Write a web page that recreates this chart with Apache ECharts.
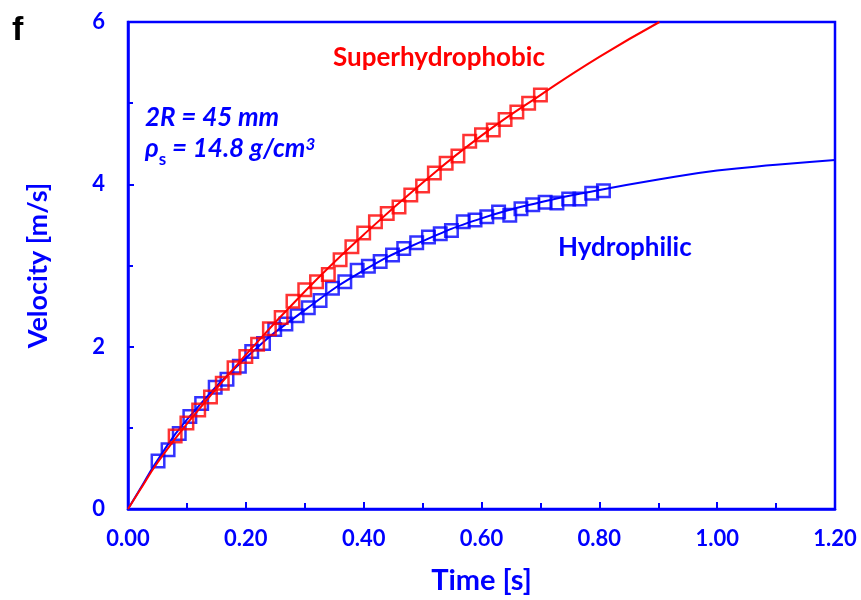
<!DOCTYPE html>
<html><head><meta charset="utf-8">
<script src="https://cdn.jsdelivr.net/npm/echarts@6/dist/echarts.min.js"></script>
<style>html,body{margin:0;padding:0;background:#fff}#c{width:861px;height:600px}</style>
</head><body><div id="c"></div>
<script>
// Superhydrophobic measured points [time s, velocity m/s]
var superT = [0.08,0.10,0.12,0.14,0.16,0.18,0.20,0.22,0.24,0.26,0.28,0.30,0.32,0.34,0.36,0.38,0.40,0.42,0.44,0.46,0.48,0.50,0.52,0.54,0.56,0.58,0.60,0.62,0.64,0.66,0.68,0.70];
var superV = [0.90,1.06,1.22,1.38,1.55,1.74,1.88,2.03,2.22,2.36,2.56,2.70,2.80,2.89,3.07,3.23,3.40,3.54,3.64,3.72,3.87,3.98,4.14,4.26,4.35,4.53,4.61,4.67,4.80,4.89,5.00,5.10];
// Hydrophilic measured points
var hydroT = [0.051,0.068,0.087,0.105,0.125,0.148,0.168,0.189,0.210,0.230,0.249,0.268,0.287,0.306,0.326,0.347,0.368,0.389,0.408,0.428,0.449,0.468,0.490,0.510,0.530,0.549,0.569,0.589,0.609,0.629,0.648,0.667,0.687,0.708,0.728,0.748,0.767,0.787,0.807];
var hydroV = [0.59,0.73,0.93,1.14,1.30,1.50,1.60,1.76,1.94,2.04,2.21,2.28,2.38,2.48,2.57,2.72,2.80,2.94,2.99,3.05,3.13,3.21,3.28,3.35,3.39,3.43,3.54,3.56,3.60,3.66,3.62,3.70,3.75,3.78,3.77,3.82,3.82,3.89,3.92];
// Fitted curves
var superFitT = [0,0.02,0.05,0.10,0.20,0.30,0.40,0.50,0.60,0.70,0.80,0.902];
var superFitV = [0,0.23,0.57,1.05,1.90,2.68,3.38,4.02,4.60,5.10,5.57,6.0];
var hydroFitT = [0,0.02,0.05,0.10,0.20,0.30,0.40,0.50,0.60,0.70,0.80,0.90,1.00,1.10,1.20];
var hydroFitV = [0,0.24,0.60,1.10,1.86,2.45,2.94,3.30,3.58,3.78,3.93,4.06,4.17,4.24,4.30];
var xTicks = {min:0, max:1.2, interval:0.2};
var yTicks = {min:0, max:6, interval:2};

function zip(a,b){return a.map(function(v,i){return [v,b[i]];});}
var BLUE='#0000ff', RED='#ff0000', F='Lato';
var chart = echarts.init(document.getElementById('c'), null, {renderer:'canvas'});
chart.setOption({
  animation:false,
  grid:{left:128,right:26,top:22,bottom:91,show:true,borderColor:BLUE,borderWidth:2.5,containLabel:false},
  xAxis:{type:'value',min:xTicks.min,max:xTicks.max,interval:xTicks.interval,
    axisLine:{show:true,onZero:false,lineStyle:{color:BLUE,width:2.5}},
    axisTick:{show:true,inside:true,length:7,lineStyle:{color:BLUE,width:2}},
    minorTick:{show:true,splitNumber:2,length:6,lineStyle:{color:BLUE,width:2}},
    splitLine:{show:false},
    axisLabel:{color:BLUE,fontFamily:F,fontWeight:'bold',fontSize:22,margin:19,formatter:function(v){return v.toFixed(2);}},
    name:'Time [s]',nameLocation:'middle',nameGap:57,nameTextStyle:{color:BLUE,fontFamily:F,fontWeight:'bold',fontSize:29}},
  yAxis:{type:'value',min:yTicks.min,max:yTicks.max,interval:yTicks.interval,
    axisLine:{show:true,onZero:false,lineStyle:{color:BLUE,width:2.5}},
    axisTick:{show:true,inside:true,length:6,lineStyle:{color:BLUE,width:2}},
    minorTick:{show:true,splitNumber:2,length:5,lineStyle:{color:BLUE,width:2}},
    splitLine:{show:false},
    axisLabel:{color:BLUE,fontFamily:F,fontWeight:'bold',fontSize:22,margin:23},
    name:'Velocity [m/s]',nameLocation:'middle',nameGap:76,nameTextStyle:{color:BLUE,fontFamily:F,fontWeight:'bold',fontSize:27}},
  series:[
    {type:'scatter',data:zip(hydroT,hydroV),symbol:'rect',symbolSize:12.5,z:2,
      itemStyle:{color:'rgba(0,0,0,0)',borderColor:BLUE,borderWidth:2.5}},
    {type:'line',data:zip(hydroFitT,hydroFitV),smooth:true,showSymbol:false,z:3,
      lineStyle:{color:BLUE,width:2}},
    {type:'scatter',data:zip(superT,superV),symbol:'rect',symbolSize:12.5,z:4,
      itemStyle:{color:'rgba(0,0,0,0)',borderColor:RED,borderWidth:2.5}},
    {type:'line',data:zip(superFitT,superFitV),smooth:true,showSymbol:false,z:5,clip:true,
      lineStyle:{color:RED,width:2}}
  ],
  graphic:[
    {type:'text',x:12,y:31,style:{text:'f',fill:'#000',font:'bold 34px "Liberation Sans"',verticalAlign:'middle'}},
    {type:'text',x:333,y:58,style:{text:'Superhydrophobic',fill:RED,font:'bold 26px '+F,verticalAlign:'middle'}},
    {type:'text',x:558,y:247.5,style:{text:'Hydrophilic',fill:BLUE,font:'bold 26px '+F,verticalAlign:'middle'}},
    {type:'text',x:145,y:117.5,style:{text:'2R = 45 mm',fill:BLUE,font:'italic bold 26px '+F,verticalAlign:'middle'}},
    {type:'text',x:145,y:136,style:{
      text:'{a|ρ}{s|s}{a| = 14.8 g/cm}{p|3}',
      rich:{
        a:{fill:BLUE,font:'italic bold 26px '+F,verticalAlign:'bottom'},
        s:{fill:BLUE,font:'bold 17px '+F,verticalAlign:'bottom',padding:[0,0,-6,0]},
        p:{fill:BLUE,font:'italic bold 17px '+F,verticalAlign:'top'}
      }}}
  ]
});
</script></body></html>
